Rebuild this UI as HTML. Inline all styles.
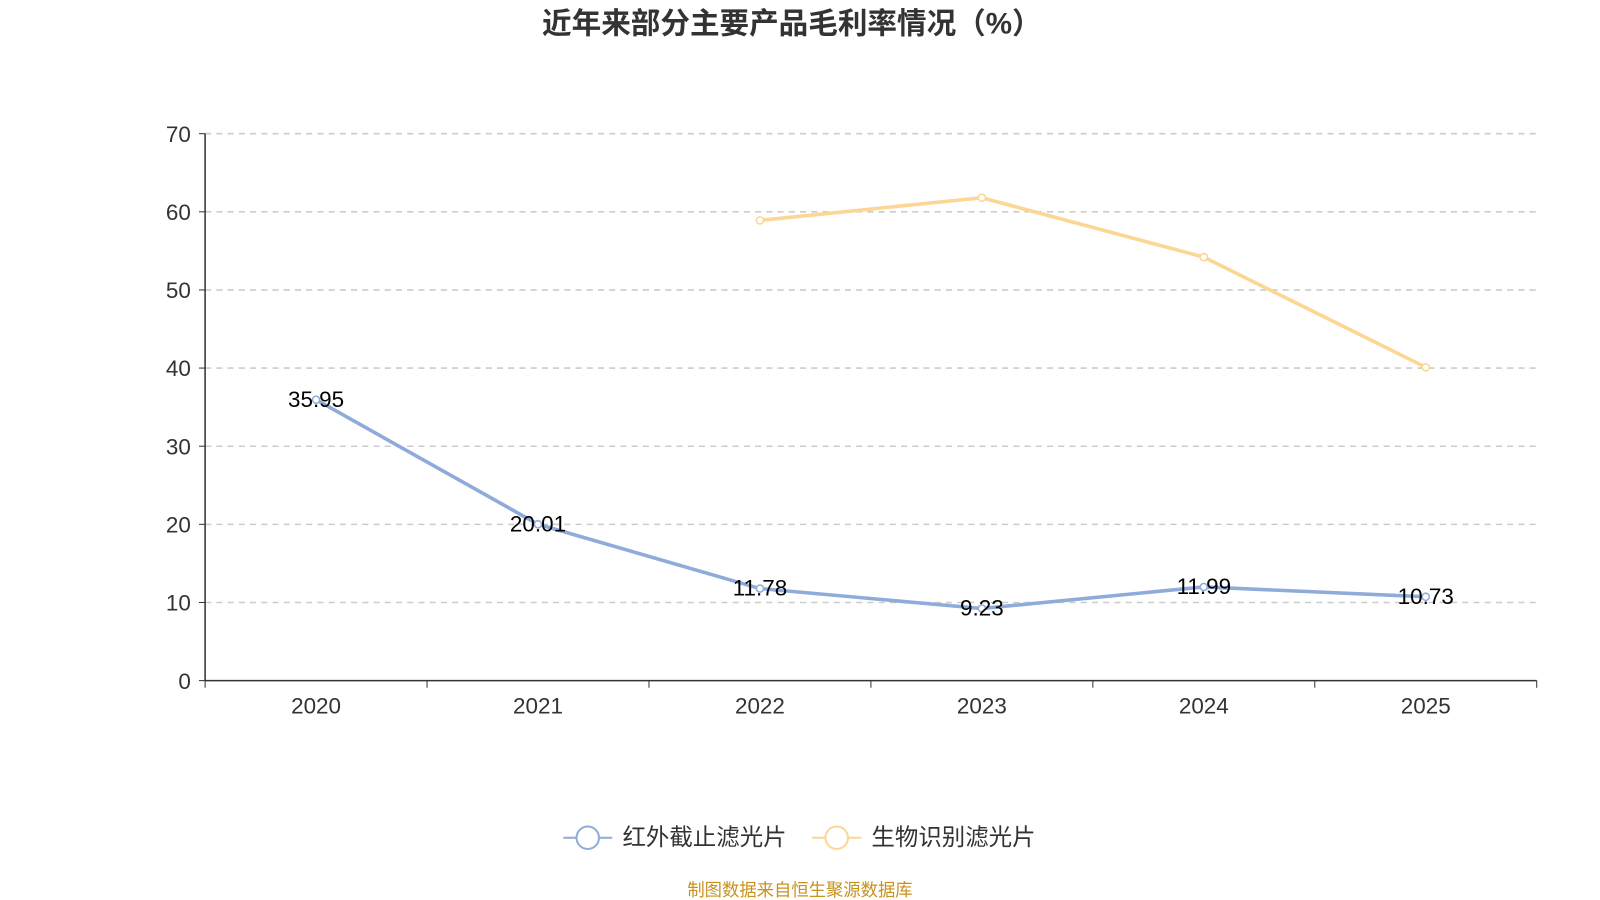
<!DOCTYPE html>
<html><head><meta charset="utf-8"><style>
html,body{margin:0;padding:0;background:#fff;width:1600px;height:900px;overflow:hidden}
svg{display:block;font-family:"Liberation Sans","Noto Sans CJK SC",sans-serif}
</style></head><body>
<svg id="chart" width="1600" height="900">
<g transform="scale(1.0204)">
<text x="776" y="33" text-anchor="middle" font-size="29" font-weight="bold" fill="#333">近年来部分主要产品毛利率情况（%）</text>
<g id="grid"></g>
<g id="axes"></g>
<g id="series"></g>
<g>
<g>
<line x1="552" y1="821" x2="600" y2="821" stroke="#8eabda" stroke-width="2"/>
<circle cx="576" cy="821" r="11" fill="#fff" stroke="#8eabda" stroke-width="2"/>
<text x="610" y="828" font-size="23" fill="#333">红外截止滤光片</text></g>
<g>
<line x1="796" y1="821" x2="844" y2="821" stroke="#fcd693" stroke-width="2"/>
<circle cx="820" cy="821" r="11" fill="#fff" stroke="#fcd693" stroke-width="2"/>
<text x="854" y="828" font-size="23" fill="#333">生物识别滤光片</text></g>
</g>
<text x="784" y="878" text-anchor="middle" font-size="17" fill="#c8921e">制图数据来自恒生聚源数据库</text>
</g>
</svg>
<script>
const categories=["2020","2021","2022","2023","2024","2025"];
const irValues=[35.95,20.01,11.78,9.23,11.99,10.73];
const bioValues=[null,null,58.9,61.8,54.2,40.1];
const yTicks=[0,10,20,30,40,50,60,70];
const NS="http://www.w3.org/2000/svg";
const x0=201,x1=1506,y0=667,yTop=131,yMax=70;
const band=(x1-x0)/categories.length;
const xs=i=>x0+band*(i+0.5);
const ys=v=>y0-(v/yMax)*(y0-yTop);
function mk(tag,attrs,parent,txt){const e=document.createElementNS(NS,tag);for(const k in attrs)e.setAttribute(k,attrs[k]);if(txt!==undefined)e.textContent=txt;parent.appendChild(e);return e;}
const grid=document.getElementById('grid'),axes=document.getElementById('axes'),ser=document.getElementById('series');
yTicks.forEach(t=>{const y=ys(t);
 if(t>0){const l=mk('line',{x1:x0,x2:x1,y1:y,y2:y,stroke:'#ccc','stroke-dasharray':'6,5','stroke-width':1.5},grid);
 
 }
 const tk=mk('line',{x1:x0-6,x2:x0,y1:y,y2:y,stroke:'#333'},axes);
 
 
 const tl=mk('text',{x:x0-14,y:y+8,'text-anchor':'end','font-size':22,fill:'#333'},axes,t);
 
 
});
mk('line',{x1:x0,x2:x0,y1:yTop,y2:y0,stroke:'#333','stroke-width':1.5},axes);
mk('line',{x1:x0,x2:x1,y1:y0,y2:y0,stroke:'#333','stroke-width':1.5},axes);
for(let i=0;i<=categories.length;i++){const x=x0+band*i;const t=mk('line',{x1:x,x2:x,y1:y0,y2:y0+7,stroke:'#333'},axes);
 
 }
categories.forEach((c,i)=>{const t=mk('text',{x:xs(i),y:y0+32,'text-anchor':'middle','font-size':22,fill:'#333'},axes,c);
 
 });
function drawSeries(vals,color,name,labels){
 const pts=[];vals.forEach((v,i)=>{if(v!==null)pts.push([xs(i),ys(v),v]);});
 const p=mk('polyline',{points:pts.map(p=>p[0]+','+p[1]).join(' '),fill:'none',stroke:color,'stroke-width':3.5,'stroke-linejoin':'round'},ser);
 
 
 pts.forEach(pt=>{const c=mk('circle',{cx:pt[0],cy:pt[1],r:3.5,fill:'#fff',stroke:color,'stroke-width':1.5},ser);
  
  
  if(labels){const t=mk('text',{x:pt[0],y:pt[1]+7,'text-anchor':'middle','font-size':22,fill:'#000'},ser,pt[2].toFixed(2));
  
  }
 });
}
drawSeries(bioValues,'#fcd693','biometric',false);
drawSeries(irValues,'#8eabda','ir-cut',true);
</script>
</body></html>
